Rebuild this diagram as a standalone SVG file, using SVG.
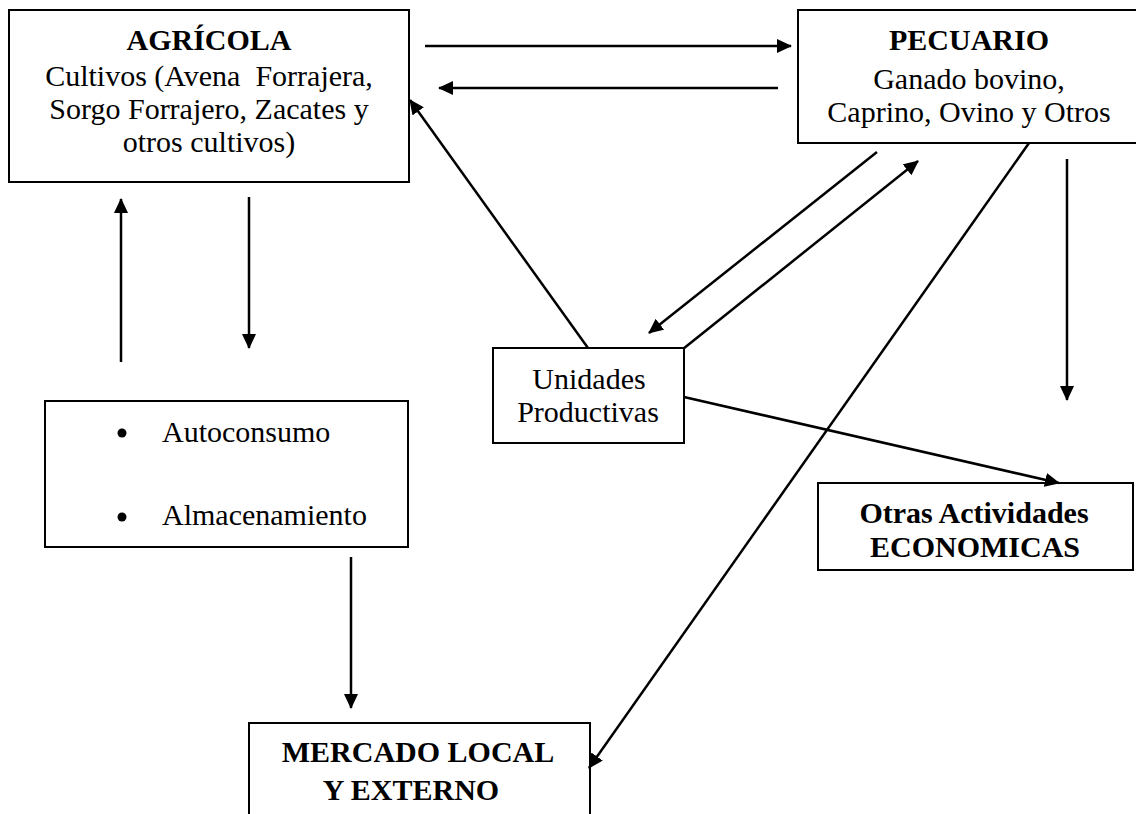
<svg xmlns="http://www.w3.org/2000/svg" width="1136" height="814" viewBox="0 0 1136 814">
<defs>
<marker id="ah" markerUnits="userSpaceOnUse" viewBox="0 0 15 14" refX="14" refY="7" markerWidth="15" markerHeight="14" orient="auto">
<path d="M0,0 L15,7 L0,14 Z" fill="#000"/>
</marker>
<style>
.box{fill:#fff;stroke:#000;stroke-width:2}
.t{font-family:"Liberation Serif","Times New Roman",serif;font-size:30px;fill:#000}
.b{font-weight:bold}
.m{text-anchor:middle}
.c{stroke:#000;stroke-width:2.5;fill:none;marker-end:url(#ah)}
</style>
</defs>
<rect width="1136" height="814" fill="#fff"/>
<g id="agricola">
<rect class="box" x="9" y="10" width="400" height="172"/>
<text class="t b m" x="209" y="50">AGRÍCOLA</text>
<text class="t m" x="209" y="86" xml:space="preserve">Cultivos (Avena  Forrajera,</text>
<text class="t m" x="209" y="119">Sorgo Forrajero, Zacates y</text>
<text class="t m" x="209" y="152">otros cultivos)</text>
</g>
<g id="pecuario">
<rect class="box" x="798" y="10" width="345" height="133"/>
<text class="t b m" x="969" y="50">PECUARIO</text>
<text class="t m" x="969" y="89">Ganado bovino,</text>
<text class="t m" x="969" y="122">Caprino, Ovino y Otros</text>
</g>
<g id="unidades">
<rect class="box" x="493" y="348" width="191" height="95"/>
<text class="t m" x="589" y="389">Unidades</text>
<text class="t m" x="588" y="422">Productivas</text>
</g>
<g id="autoconsumo">
<rect class="box" x="45" y="401" width="363" height="146"/>
<circle cx="122" cy="433" r="4.5"/>
<text class="t" x="162" y="442">Autoconsumo</text>
<circle cx="122" cy="517" r="4.5"/>
<text class="t" x="162" y="525">Almacenamiento</text>
</g>
<g id="otras">
<rect class="box" x="818" y="483" width="315" height="87"/>
<text class="t b m" x="974" y="523">Otras Actividades</text>
<text class="t b m" x="975" y="557">ECONOMICAS</text>
</g>
<g id="mercado">
<rect class="box" x="249" y="723" width="341" height="110"/>
<text class="t b m" x="418" y="762">MERCADO LOCAL</text>
<text class="t b m" x="411" y="800">Y EXTERNO</text>
</g>
<g id="connectors">
<line class="c" x1="425" y1="46" x2="791" y2="46"/>
<line class="c" x1="778" y1="88" x2="439" y2="88"/>
<line class="c" x1="588" y1="348" x2="410" y2="100"/>
<line class="c" x1="877" y1="152" x2="649" y2="333"/>
<line class="c" x1="683" y1="349" x2="918" y2="161"/>
<line class="c" x1="1029" y1="143" x2="589" y2="768"/>
<line class="c" x1="1067" y1="159" x2="1067" y2="400"/>
<line class="c" x1="684" y1="397" x2="1059" y2="483"/>
<line class="c" x1="121" y1="362" x2="121" y2="199"/>
<line class="c" x1="249" y1="197" x2="249" y2="348"/>
<line class="c" x1="351" y1="557" x2="351" y2="708"/>
</g>
</svg>
